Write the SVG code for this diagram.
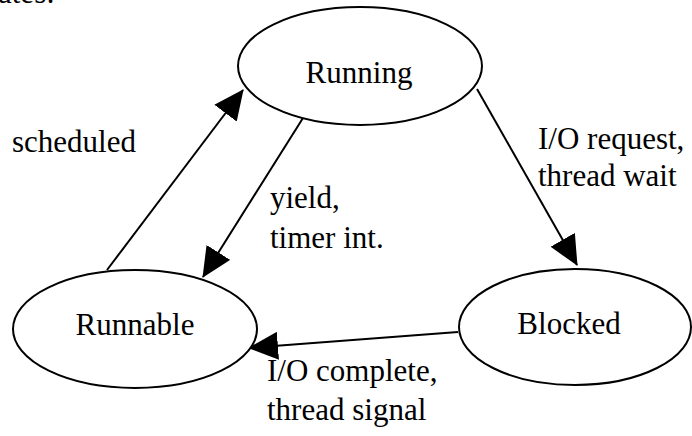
<svg xmlns="http://www.w3.org/2000/svg" width="692" height="436" viewBox="0 0 692 436">
<style>
.node ellipse{fill:#fff;stroke:#000;stroke-width:2}
.t{font-family:'Liberation Serif','DejaVu Serif','Times New Roman',serif;font-size:31px;fill:#000}
.c{text-anchor:middle}
.edge{stroke:#000;stroke-width:2;fill:none;marker-end:url(#ah)}
</style>
<defs>
<marker id="ah" viewBox="0 0 30 28" refX="29" refY="14" markerWidth="30" markerHeight="28" markerUnits="userSpaceOnUse" orient="auto">
<path d="M0,0 L30,14 L0,28 z" fill="#000"/>
</marker>
</defs>
<rect width="692" height="436" fill="#fff"/>
<text class="t" x="-2" y="3" font-family="Liberation Serif, DejaVu Serif, serif">ates:</text>
<g id="connectors">
<line class="edge" x1="107" y1="270" x2="243" y2="90"/>
<line class="edge" x1="303" y1="118" x2="203" y2="277"/>
<line class="edge" x1="477" y1="89" x2="577" y2="265"/>
<line class="edge" x1="458" y1="332" x2="249" y2="348"/>
</g>
<g id="running" class="node">
<ellipse cx="360" cy="66" rx="122" ry="59"/>
<text class="t c" x="359" y="83" font-family="Liberation Serif, DejaVu Serif, serif">Running</text>
</g>
<g id="runnable" class="node">
<ellipse cx="135" cy="329" rx="122" ry="59"/>
<text class="t c" x="135" y="335" font-family="Liberation Serif, DejaVu Serif, serif">Runnable</text>
</g>
<g id="blocked" class="node">
<ellipse cx="575" cy="327" rx="116" ry="58"/>
<text class="t c" x="569" y="334" font-family="Liberation Serif, DejaVu Serif, serif">Blocked</text>
</g>
<g id="labels" font-family="Liberation Serif, DejaVu Serif, serif">
<text class="t" x="12" y="152">scheduled</text>
<text class="t" x="270" y="208">yield,</text>
<text class="t" x="270" y="248">timer int.</text>
<text class="t" x="538" y="149">I/O request,</text>
<text class="t" x="538" y="186">thread wait</text>
<text class="t" x="267" y="381">I/O complete,</text>
<text class="t" x="267" y="420">thread signal</text>
</g>
</svg>
